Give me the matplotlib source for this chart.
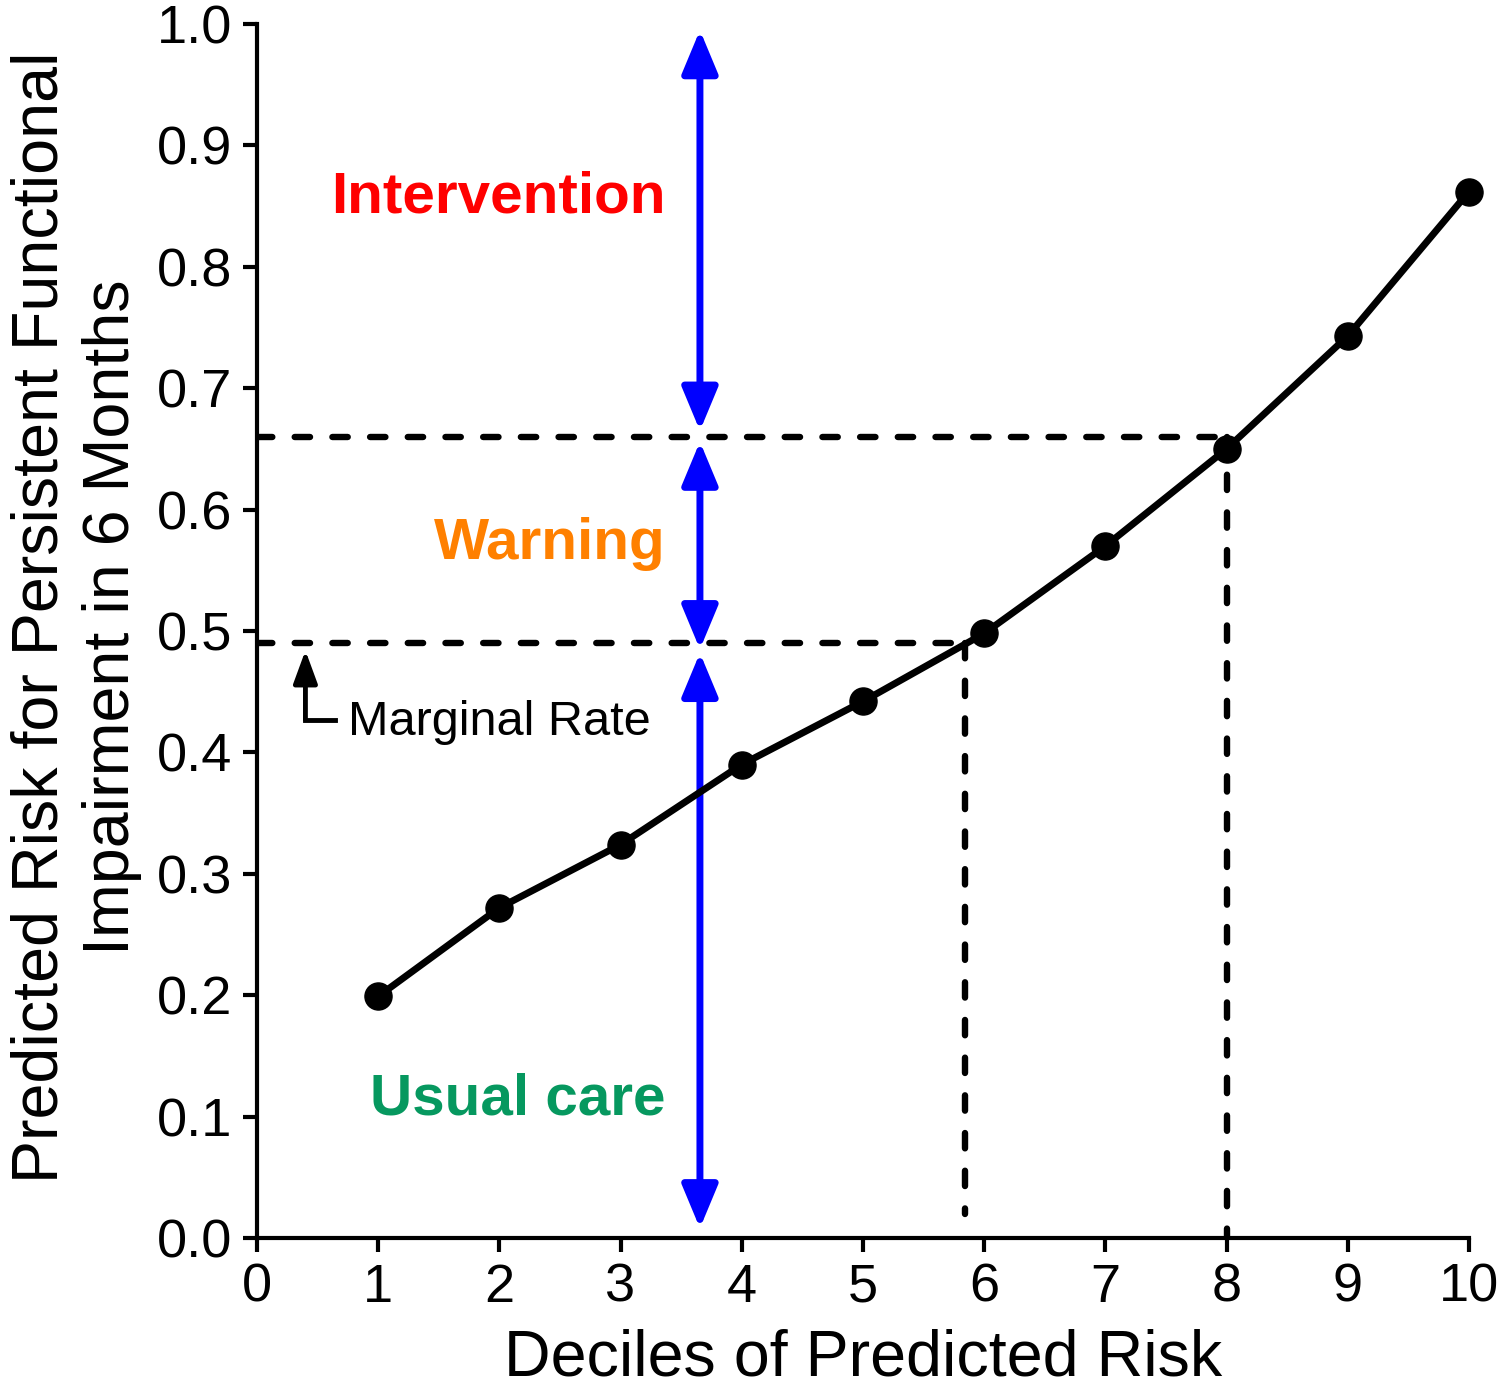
import matplotlib
matplotlib.use("Agg")
import matplotlib.pyplot as plt

plt.rcParams["font.family"] = ["Liberation Sans", "DejaVu Sans"]

# -------------------- data --------------------
deciles = [1, 2, 3, 4, 5, 6, 7, 8, 9, 10]
risk = [0.199, 0.272, 0.324, 0.390, 0.442, 0.498, 0.570, 0.650, 0.743, 0.862]

marginal_rate = 0.49      # lower threshold
upper_rate = 0.66         # upper threshold
marginal_x = 5.84         # decile where curve crosses marginal rate
upper_x = 8.0

arrow_x = 3.655
arrow_spans = [(0.665, 0.995), (0.485, 0.656), (0.008, 0.482)]

zones = [("Intervention", 0.857, "#FF0000"),
         ("Warning", 0.572, "#FF8000"),
         ("Usual care", 0.114, "#06985F")]

# -------------------- figure --------------------
fig = plt.figure(figsize=(15, 13.91), dpi=100)
ax = fig.add_axes([0.1713, 0.110, 0.808, 0.8727])

dash = dict(color="black", lw=4.6, linestyle=(0, (2.4, 3.5)), dash_capstyle="round")
ax.plot([0, upper_x], [upper_rate, upper_rate], **dash)
ax.plot([upper_x, upper_x], [upper_rate, 0], **dash)
ax.plot([0, marginal_x], [marginal_rate, marginal_rate], **dash)
ax.plot([marginal_x, marginal_x], [marginal_rate, 0.02], **dash)

ax.plot(deciles, risk, color="black", lw=5, marker="o", markersize=19.5, zorder=5,
        clip_on=False)

for y0, y1 in arrow_spans:
    ax.annotate("", xy=(arrow_x, y1), xytext=(arrow_x, y0),
                arrowprops=dict(arrowstyle="<|-|>,head_length=1.2,head_width=0.5",
                                color="#0000FF", lw=5, shrinkA=0, shrinkB=0,
                                mutation_scale=22))

for label, y, c in zones:
    ax.text(3.37, y, label, color=c, fontsize=42, fontweight="bold",
            ha="right", va="center")

# marginal rate pointer
ax.annotate("", xy=(0.40, 0.484), xytext=(0.40, 0.427),
            arrowprops=dict(arrowstyle="-|>,head_length=0.9,head_width=0.33",
                            color="black", lw=3.5, shrinkA=0, shrinkB=0,
                            mutation_scale=22))
ax.plot([0.40, 0.64], [0.427, 0.427], color="black", lw=3.5, solid_capstyle="projecting")
ax.text(0.75, 0.425, "Marginal Rate", fontsize=35, ha="left", va="center")

ax.set_xlim(0, 10)
ax.set_ylim(0, 1.0)
ax.set_xticks(range(0, 11))
ax.set_yticks([i / 10 for i in range(11)])
ax.set_yticklabels([f"{i / 10:.1f}" for i in range(11)])
ax.spines["top"].set_visible(False)
ax.spines["right"].set_visible(False)
for s in ("left", "bottom"):
    ax.spines[s].set_linewidth(3)
ax.tick_params(axis="both", labelsize=39, width=3, length=10, pad=8)

ax.set_xlabel("Deciles of Predicted Risk", fontsize=46.5, labelpad=11)
ax.set_ylabel("Predicted Risk for Persistent Functional\nImpairment in 6 Months",
              fontsize=46.5, linespacing=1.25)
ax.yaxis.set_label_coords(-0.095, 0.5115)

fig.savefig("out.png", dpi=100)
